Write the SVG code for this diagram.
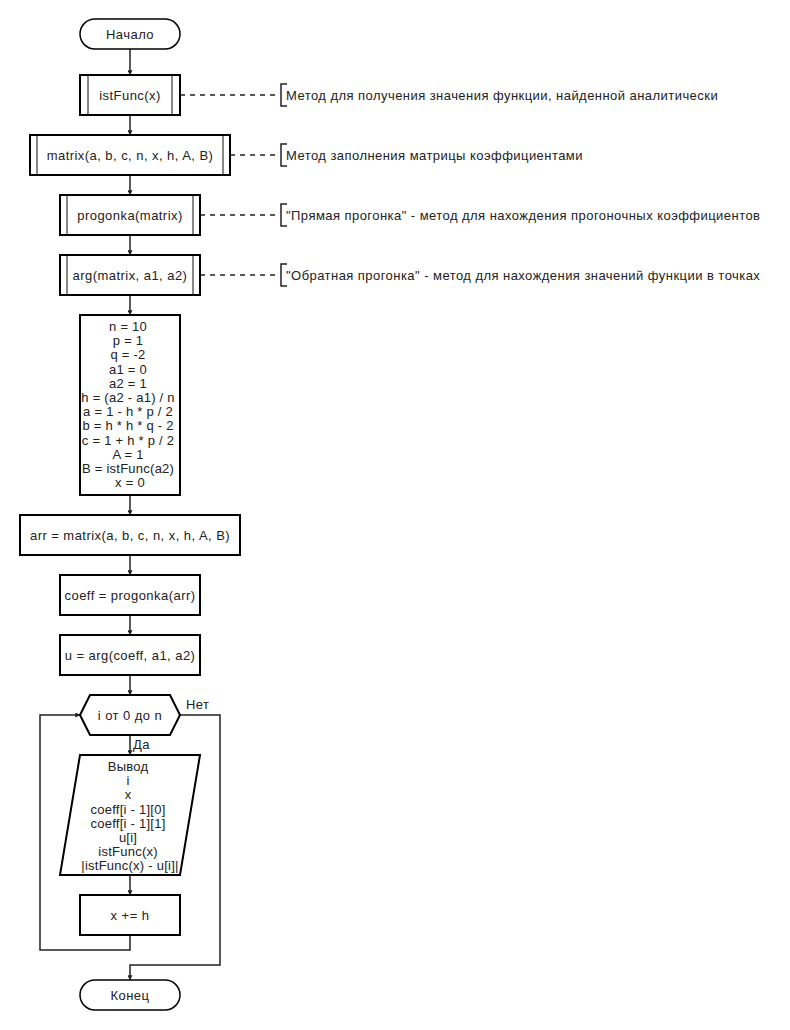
<svg xmlns="http://www.w3.org/2000/svg" width="790" height="1030" viewBox="0 0 790 1030">
  <defs>
    <marker id="arrow" viewBox="0 0 8 8" refX="7.5" refY="4" markerWidth="5" markerHeight="5" orient="auto" markerUnits="userSpaceOnUse">
      <path d="M0,0 L8,4 L0,8 Z" fill="#222"/>
    </marker>
    <style>
      .box { fill: #fff; stroke: #000; stroke-width: 2; }
      .term { fill: #fff; stroke: #000; stroke-width: 1.5; }
      .sub { stroke: #888; stroke-width: 2; }
      .link { fill: none; stroke: #222; stroke-width: 1.5; }
      .note { fill: none; stroke: #222; stroke-width: 1.5; stroke-dasharray: 5 5; }
      .brk { fill: none; stroke: #222; stroke-width: 1.5; }
      text { font-family: "Liberation Sans", Arial, sans-serif; font-size: 13px; letter-spacing: 0.45px; fill: #222; }
      .c { text-anchor: middle; dominant-baseline: central; }
      .l { dominant-baseline: central; }
      .tight { letter-spacing: 0.25px; }
    </style>
  </defs>
  <rect width="790" height="1030" fill="#fff"/>

  <!-- connectors -->
  <g id="connectors">
    <path class="link" d="M130,49 V75" marker-end="url(#arrow)"/>
    <path class="link" d="M130,115 V135" marker-end="url(#arrow)"/>
    <path class="link" d="M130,175 V195" marker-end="url(#arrow)"/>
    <path class="link" d="M130,235 V255" marker-end="url(#arrow)"/>
    <path class="link" d="M130,295 V315" marker-end="url(#arrow)"/>
    <path class="link" d="M130,495 V515" marker-end="url(#arrow)"/>
    <path class="link" d="M130,555 V575" marker-end="url(#arrow)"/>
    <path class="link" d="M130,615 V635" marker-end="url(#arrow)"/>
    <path class="link" d="M130,675 V695" marker-end="url(#arrow)"/>
    <path class="link" d="M130,735 V755" marker-end="url(#arrow)"/>
    <path class="link" d="M130,875 V895" marker-end="url(#arrow)"/>
    <path class="link" d="M130,935 V950 H40 V715 H80" marker-end="url(#arrow)"/>
    <path class="link" d="M180,715 H220 V965 H130 V980" marker-end="url(#arrow)"/>
    <text x="186" y="704" class="l">Нет</text>
    <text x="133" y="744" class="l">Да</text>

    <!-- annotation links -->
    <path class="note" d="M180,95 H280"/>
    <path class="note" d="M230,155 H280"/>
    <path class="note" d="M200,215 H280"/>
    <path class="note" d="M200,275 H280"/>
  </g>

  <!-- annotations -->
  <g id="note1">
    <path class="brk" d="M287,84 H281 V106 H287"/>
    <text x="286" y="95" class="l">Метод для получения значения функции, найденной аналитически</text>
  </g>
  <g id="note2">
    <path class="brk" d="M287,144 H281 V166 H287"/>
    <text x="286" y="155" class="l">Метод заполнения матрицы коэффициентами</text>
  </g>
  <g id="note3">
    <path class="brk" d="M287,204 H281 V226 H287"/>
    <text x="286" y="215" class="l">"Прямая прогонка" - метод для нахождения прогоночных коэффициентов</text>
  </g>
  <g id="note4">
    <path class="brk" d="M287,264 H281 V286 H287"/>
    <text x="286" y="275" class="l">"Обратная прогонка" - метод для нахождения значений функции в точках</text>
  </g>

  <!-- nodes -->
  <g id="start">
    <rect class="term" x="80" y="19" width="100" height="30" rx="15"/>
    <text x="130" y="34" class="c">Начало</text>
  </g>
  <g id="istFunc">
    <rect class="box" x="80" y="75" width="100" height="40"/>
    <line class="sub" x1="88" y1="76" x2="88" y2="114"/>
    <line class="sub" x1="172" y1="76" x2="172" y2="114"/>
    <text x="130" y="95" class="c">istFunc(x)</text>
  </g>
  <g id="matrix">
    <rect class="box" x="30" y="135" width="200" height="40"/>
    <line class="sub" x1="37" y1="136" x2="37" y2="174"/>
    <line class="sub" x1="223" y1="136" x2="223" y2="174"/>
    <text x="130" y="155" class="c">matrix(a, b, c, n, x, h, A, B)</text>
  </g>
  <g id="progonka">
    <rect class="box" x="60" y="195" width="140" height="40"/>
    <line class="sub" x1="67" y1="196" x2="67" y2="234"/>
    <line class="sub" x1="193" y1="196" x2="193" y2="234"/>
    <text x="130" y="215" class="c">progonka(matrix)</text>
  </g>
  <g id="arg">
    <rect class="box" x="60" y="255" width="140" height="40"/>
    <line class="sub" x1="67" y1="256" x2="67" y2="294"/>
    <line class="sub" x1="193" y1="256" x2="193" y2="294"/>
    <text x="130" y="275" class="c">arg(matrix, a1, a2)</text>
  </g>
  <g id="init">
    <rect class="box" x="80" y="315" width="100" height="180"/>
    <text class="c tight">
      <tspan x="130" y="326">n = 10</tspan>
      <tspan x="130" y="340.2">p = 1</tspan>
      <tspan x="130" y="354.4">q = -2</tspan>
      <tspan x="130" y="368.6">a1 = 0</tspan>
      <tspan x="130" y="382.8">a2 = 1</tspan>
      <tspan x="130" y="397">h = (a2 - a1) / n</tspan>
      <tspan x="130" y="411.2">a = 1 - h * p / 2</tspan>
      <tspan x="130" y="425.4">b = h * h * q - 2</tspan>
      <tspan x="130" y="439.6">c = 1 + h * p / 2</tspan>
      <tspan x="130" y="453.8">A = 1</tspan>
      <tspan x="130" y="468">B = istFunc(a2)</tspan>
      <tspan x="130" y="482.2">x = 0</tspan>
    </text>
  </g>
  <g id="arr">
    <rect class="box" x="20" y="515" width="220" height="40"/>
    <text x="130" y="535" class="c">arr = matrix(a, b, c, n, x, h, A, B)</text>
  </g>
  <g id="coeff">
    <rect class="box" x="60" y="575" width="140" height="40"/>
    <text x="130" y="595" class="c">coeff = progonka(arr)</text>
  </g>
  <g id="u">
    <rect class="box" x="60" y="635" width="140" height="40"/>
    <text x="130" y="655" class="c">u = arg(coeff, a1, a2)</text>
  </g>
  <g id="loop">
    <polygon class="box" points="80,715 90,695 170,695 180,715 170,735 90,735"/>
    <text x="130" y="715" class="c">i от 0 до n</text>
  </g>
  <g id="output">
    <polygon class="box" points="80,755 200,755 180,875 60,875"/>
    <text class="c tight">
      <tspan x="130" y="766">Вывод</tspan>
      <tspan x="130" y="780.2">i</tspan>
      <tspan x="130" y="794.4">x</tspan>
      <tspan x="130" y="808.6">coeff[i - 1][0]</tspan>
      <tspan x="130" y="822.8">coeff[i - 1][1]</tspan>
      <tspan x="130" y="837">u[i]</tspan>
      <tspan x="130" y="851.2">istFunc(x)</tspan>
      <tspan x="130" y="865.4">|istFunc(x) - u[i]|</tspan>
    </text>
  </g>
  <g id="step">
    <rect class="box" x="80" y="895" width="100" height="40"/>
    <text x="130" y="915" class="c">x += h</text>
  </g>
  <g id="end">
    <rect class="term" x="80" y="980" width="100" height="30" rx="15"/>
    <text x="130" y="995" class="c">Конец</text>
  </g>
</svg>
